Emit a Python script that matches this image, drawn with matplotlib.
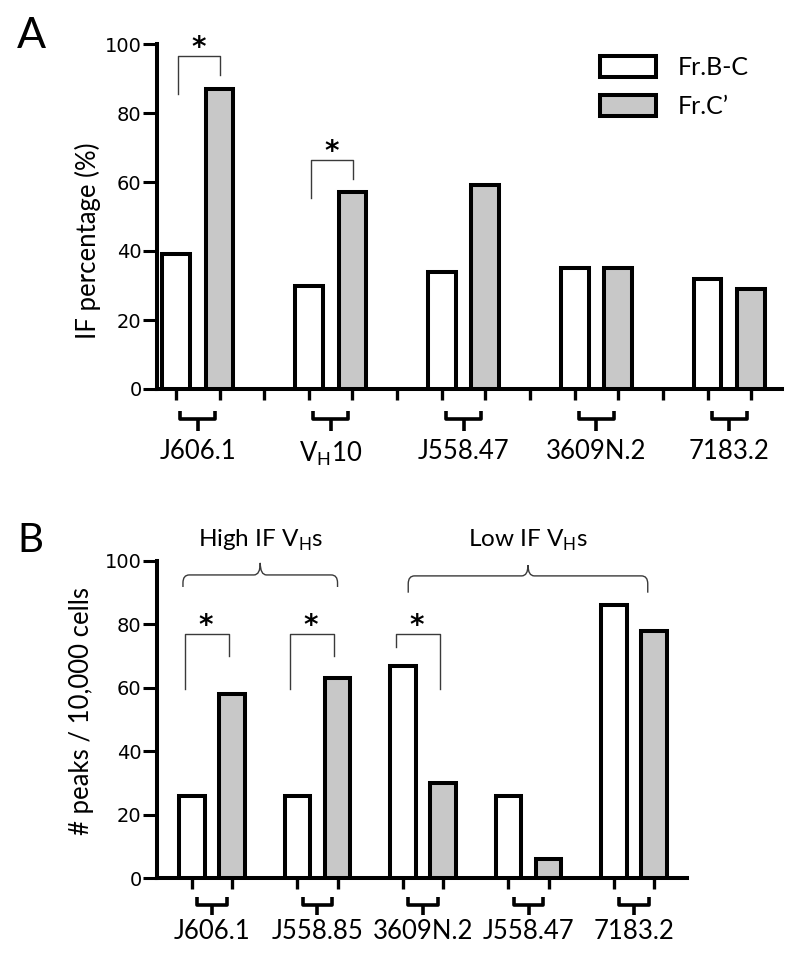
import numpy as np
import matplotlib
matplotlib.use("Agg")
import matplotlib.pyplot as plt
from matplotlib.path import Path
from matplotlib.patches import PathPatch

plt.rcParams["font.family"] = ["Lato", "DejaVu Sans"]
plt.rcParams["mathtext.fontset"] = "custom"
plt.rcParams["mathtext.rm"] = "Lato"

# panel A data
a_genes = ["J606.1", r"V$_\mathregular{H}$10", "J558.47", "3609N.2", "7183.2"]
a_frbc = [39, 30, 34, 35, 32]
a_frc = [87, 57, 59, 35, 29]
a_sig = [0, 1]

# panel B data
b_genes = ["J606.1", "J558.85", "3609N.2", "J558.47", "7183.2"]
b_frbc = [26, 26, 67, 26, 86]
b_frc = [58, 63, 30, 6, 78]
b_sig = [0, 1, 2]
b_groups = [r"High IF V$_\mathregular{H}$s", r"Low IF V$_\mathregular{H}$s"]
b_group_members = [(0, 1), (2, 4)]

legend_labels = ["Fr.B-C", "Fr.C\u2019"]
yticks = [0, 20, 40, 60, 80, 100]

GRAY = "#c8c8c8"
LINE = "#3a3a3a"
EDGE_LW = 2.9
TICK_FONT = dict(family="DejaVu Sans", size=14)
LAB_FS = 18.5


def style_axes(ax, xlim):
    ax.set_xlim(*xlim)
    ax.set_ylim(0, 100)
    for s in ["top", "right"]:
        ax.spines[s].set_visible(False)
    for s in ["left", "bottom"]:
        ax.spines[s].set_linewidth(EDGE_LW)
    ax.set_yticks(yticks)
    ax.set_yticklabels([str(t) for t in yticks], **TICK_FONT)
    ax.tick_params(axis="y", length=10, width=2.2, pad=1)
    ax.tick_params(axis="x", length=8, width=2.4, labelbottom=False)


def draw_bars(ax, frbc, frc, off, width):
    x = np.arange(len(frbc))
    w = ax.bar(x - off, frbc, width, color="white", edgecolor="black", linewidth=EDGE_LW, zorder=3)
    g = ax.bar(x + off, frc, width, color=GRAY, edgecolor="black", linewidth=EDGE_LW, zorder=3)
    return x, w, g


def gene_braces(ax, x, labels, half, y_end, y_h, y_tip, y_lab, fs):
    for xc, lab in zip(x, labels):
        ax.plot([xc - half, xc - half, xc + half, xc + half], [y_end, y_h, y_h, y_end],
                color="black", lw=2.6, clip_on=False, solid_joinstyle="round", solid_capstyle="butt")
        ax.plot([xc, xc], [y_h, y_tip], color="black", lw=2.6, clip_on=False, solid_capstyle="butt")
        ax.text(xc, y_lab, lab, ha="center", va="top", fontsize=fs)


def sig_bracket(ax, x0, x1, ytop, y0, y1, ystar, xstar):
    ax.plot([x0, x0, x1, x1], [y0, ytop, ytop, y1], color=LINE, lw=1.0, clip_on=False)
    ax.text(xstar, ystar, "*", ha="center", va="baseline", family="DejaVu Sans",
            fontweight="bold", fontsize=20)


def curly(ax, x0, x1, yh, yend, ypeak, rx=0.06, ry=2.5):
    xm = (x0 + x1) / 2
    verts = [(x0, yend), (x0, yh - ry), (x0, yh), (x0 + rx, yh),
             (xm - rx, yh), (xm, yh), (xm, ypeak),
             (xm, yh), (xm + rx, yh),
             (x1 - rx, yh), (x1, yh), (x1, yh - ry), (x1, yend)]
    codes = [Path.MOVETO, Path.LINETO, Path.CURVE3, Path.CURVE3,
             Path.LINETO, Path.CURVE3, Path.CURVE3,
             Path.CURVE3, Path.CURVE3,
             Path.LINETO, Path.CURVE3, Path.CURVE3, Path.LINETO]
    ax.add_patch(PathPatch(Path(verts, codes), fill=False, edgecolor=LINE, lw=1.0, clip_on=False))


fig = plt.figure(figsize=(8, 9.64), dpi=100)
axA = fig.add_axes([157 / 800, 1 - 389 / 964, 625 / 800, 345 / 964])
axB = fig.add_axes([157 / 800, 1 - 878 / 964, 530 / 800, 317 / 964])

# ---- A ----
xa, wa, ga = draw_bars(axA, a_frbc, a_frc, 0.165, 0.21)
style_axes(axA, (-0.305, 4.395))
axA.set_xticks(np.concatenate([xa - 0.165, xa + 0.165, xa[:-1] + 0.5]))
gene_braces(axA, xa, a_genes, 0.13, -6.4, -8.7, -12.2, -14.6, LAB_FS)
for i in a_sig:
    top = a_frc[i] + 9.5
    sig_bracket(axA, i - 0.15, i + 0.17, top, top - 11, top - 5.5, top, i + 0.01)
axA.text(-0.11, 0.43, "IF percentage (%)", transform=axA.transAxes, rotation=90,
         ha="center", va="center", fontsize=18.5)
axA.legend([wa, ga], legend_labels, loc="upper left", bbox_to_anchor=(0.709, 0.965),
           frameon=False, fontsize=18, handlelength=2.25, handleheight=0.92,
           handletextpad=0.85, labelspacing=0.62, borderpad=0, borderaxespad=0)

# ---- B ----
xb, wb, gb = draw_bars(axB, b_frbc, b_frc, 0.19, 0.24)
style_axes(axB, (-0.521, 4.502))
axB.set_xticks(np.concatenate([xb - 0.19, xb + 0.19]))
gene_braces(axB, xb, b_genes, 0.14, -6.0, -8.5, -11.7, -13.0, LAB_FS)
for i in b_sig:
    left_bottom = 73 if i == 2 else 59.6
    sig_bracket(axB, i - 0.26, i + 0.16, 77, left_bottom, 59.5 if i == 2 else 70, 77, i - 0.06)
for (g0, g1), lab, yh, yend, ypk in zip(b_group_members, b_groups, [95.6, 95.3], [91.8, 90], [99.4, 98.7]):
    x0 = g0 - (0.275 if g0 == 0 else 0.14)
    x1 = g1 + (0.19 if g0 == 0 else 0.13)
    curly(axB, x0, x1, yh, yend, ypk)
    axB.text((x0 + x1) / 2, 104.4, lab, ha="center", va="baseline", fontsize=17.5)
axB.text(-0.143, 0.527, "# peaks / 10,000 cells", transform=axB.transAxes, rotation=90,
         ha="center", va="center", fontsize=18.5)

fig.text(31 / 800, 1 - 36 / 964, "A", ha="center", va="center", fontsize=31)
fig.text(30 / 800, 1 - 541 / 964, "B", ha="center", va="center", fontsize=29)

fig.savefig("out.png", dpi=100)
